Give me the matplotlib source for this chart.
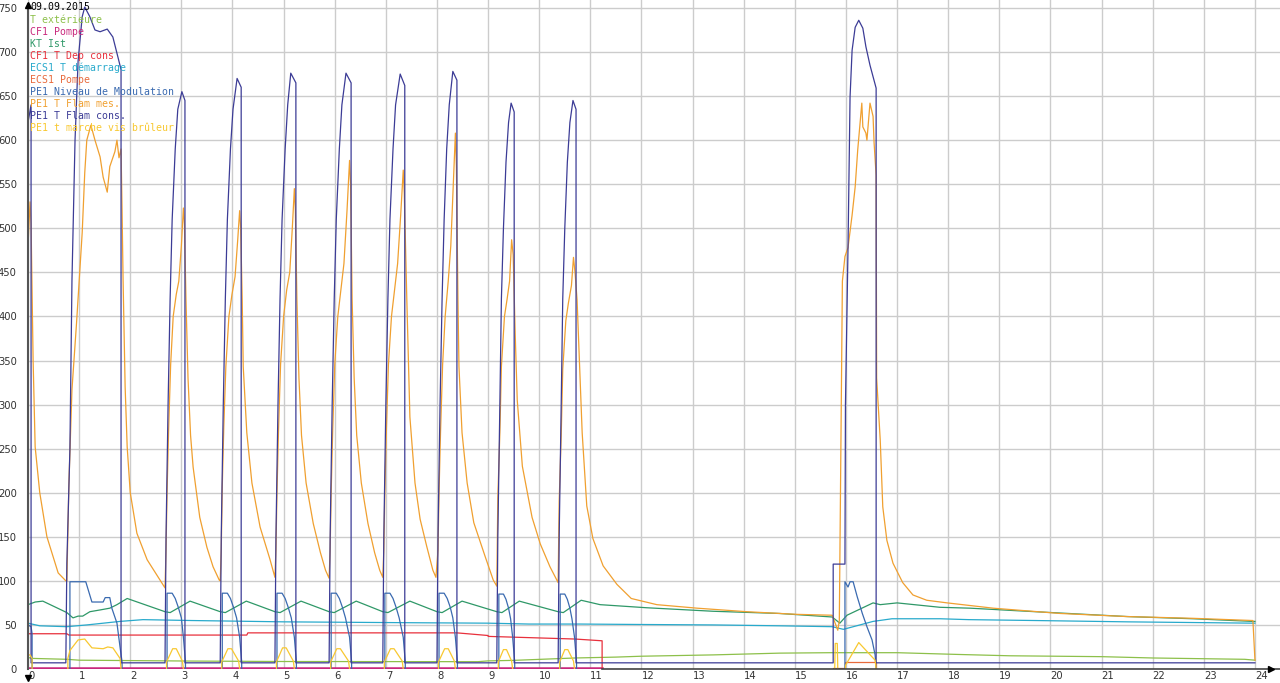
import numpy as np
import matplotlib
matplotlib.use('Agg')
import matplotlib.pyplot as plt

nan = np.nan

## Series (hours, value)
date_label = '09.09.2015'

text_t = [0.00, 0.10, 0.76, 1.00, 3.20, 5.00, 8.80, 9.00, 9.50, 10.70, 11.50, 12.00,
          13.40, 14.70, 15.70, 17.00, 18.20, 19.20, 21.00, 22.00, 23.80, 24.00]
text_v = [13, 12, 11, 10, 9, 8.5, 8.3, 9.2, 9.8, 12.5, 13.5, 14.5,
          16, 18, 18.5, 18.5, 16.5, 15, 14, 12.5, 11, 10]

cf1_pompe_t = [0.00, 11.23]
cf1_pompe_v = [1, 1]

kt_t = [0.00, 0.14, 0.29, 0.76, 0.88, 0.98, 1.07, 1.21, 1.41, 1.60, 1.74, 1.94,
        2.68, 2.78, 3.17, 3.76, 3.86, 4.27, 4.83, 4.93, 5.34, 5.89, 5.99, 6.42,
        6.94, 7.04, 7.47, 8.00, 8.10, 8.49, 9.17, 9.27, 9.61, 10.37, 10.47, 10.82,
        11.19, 12.10, 13.40, 14.70, 15.73, 15.88, 16.02, 16.53, 16.67, 17.00,
        17.84, 18.43, 19.54, 21.50, 22.79, 23.96, 24.00]
kt_v = [73, 76, 77, 64, 58, 60, 60, 65, 67, 69, 73, 80,
        65, 64, 77, 65, 64, 77, 65, 64, 77, 65, 64, 77,
        65, 64, 77, 65, 64, 77, 65, 64, 77, 65, 64, 78,
        73, 69.5, 65.5, 63, 59, 52, 61, 75, 73, 75,
        70, 69, 65.5, 59.5, 57, 54, 54]

dep_t = [0.00, 0.76, 0.80, 4.28, 4.30, 8.39, 9.00, 9.00, 10.70, 11.23, 11.23]
dep_v = [40, 40, 38.5, 38.5, 41, 41, 38, 37, 34, 32, 0]

ecs_dem_t = [0.00, 0.23, 0.76, 1.15, 1.80, 2.25, 3.20, 5.00, 7.50, 9.00, 9.80,
             10.80, 12.00, 13.40, 14.70, 15.73, 15.95, 16.53, 16.90, 17.84, 18.40,
             19.70, 21.50, 23.96, 24.00]
ecs_dem_v = [52, 49, 48, 50, 54, 56, 55, 53.5, 52.5, 52, 51,
             51, 50.5, 50, 49, 48, 45, 54, 57, 57, 56,
             55, 53.5, 52, 52]

ecs_pompe_t = [15.74, 15.98, 15.98, 16.59, 16.59]
ecs_pompe_v = [1, 1, 8, 8, 1]

mod_t = [0.00, 0.06, 0.08, 0.08, nan,
         0.82, 0.82, 1.13, 1.25, 1.47, 1.51, 1.60, 1.64, 1.74, 1.80, 1.84, 1.84, nan,
         2.72, 2.72, 2.82, 2.88, 2.94, 3.00, 3.04, 3.08, 3.08, nan,
         3.80, 3.80, 3.90, 3.96, 4.02, 4.08, 4.14, 4.18, 4.18, nan,
         4.87, 4.87, 4.97, 5.03, 5.09, 5.15, 5.21, 5.25, 5.25, nan,
         5.93, 5.93, 6.03, 6.09, 6.15, 6.21, 6.29, 6.33, 6.33, nan,
         6.98, 6.98, 7.08, 7.14, 7.20, 7.26, 7.34, 7.38, 7.38, nan,
         8.04, 8.04, 8.14, 8.20, 8.26, 8.31, 8.36, 8.40, 8.40, nan,
         9.21, 9.21, 9.30, 9.35, 9.40, 9.44, 9.48, 9.52, 9.52, nan,
         10.41, 10.41, 10.50, 10.55, 10.60, 10.64, 10.69, 10.73, 10.73, nan,
         15.98, 15.98, 16.04, 16.08, 16.14, 16.22, 16.32, 16.41, 16.51, 16.57, 16.59]
mod_v = [50, 48, 40, 0, nan,
         0, 99, 99, 76, 76, 81, 81, 69, 52, 25, 8, 0, nan,
         0, 86, 86, 80, 70, 58, 36, 8, 0, nan,
         0, 86, 86, 80, 70, 58, 36, 8, 0, nan,
         0, 86, 86, 80, 70, 58, 36, 8, 0, nan,
         0, 86, 86, 80, 70, 58, 36, 8, 0, nan,
         0, 86, 86, 80, 70, 58, 36, 8, 0, nan,
         0, 86, 86, 80, 70, 58, 36, 8, 0, nan,
         0, 85, 85, 79, 69, 57, 36, 8, 0, nan,
         0, 85, 85, 79, 69, 57, 36, 8, 0, nan,
         0, 99, 93, 99, 99, 82, 63, 48, 33, 16, 0]

mes_t = [0.00, 0.04, 0.06, 0.10, 0.14, 0.23, 0.37, 0.59, 0.74,
         0.76, 0.80, 0.86, 0.95, 1.06, 1.11, 1.15, 1.23, 1.31, 1.41, 1.47, 1.55, 1.60,
         1.70, 1.74, 1.78, 1.82, 1.84, 1.86, 1.90, 1.94, 2.00, 2.13, 2.33, 2.58, 2.68,
         2.70, 2.72, 2.75, 2.79, 2.84, 2.90, 2.95, 3.00, 3.04, 3.06, 3.09, 3.13, 3.18,
         3.23, 3.36, 3.50, 3.62, 3.74,
         3.76, 3.78, 3.80, 3.83, 3.87, 3.93, 3.99, 4.05, 4.10, 4.14, 4.16, 4.19, 4.21,
         4.28, 4.38, 4.54, 4.73, 4.83,
         4.85, 4.87, 4.90, 4.94, 5.00, 5.06, 5.12, 5.17, 5.21, 5.23, 5.26, 5.30, 5.35,
         5.44, 5.58, 5.72, 5.82, 5.89,
         5.91, 5.93, 5.96, 6.00, 6.06, 6.12, 6.18, 6.24, 6.29, 6.31, 6.34, 6.38, 6.43,
         6.52, 6.65, 6.78, 6.88, 6.94,
         6.96, 6.98, 7.01, 7.05, 7.11, 7.17, 7.23, 7.29, 7.34, 7.36, 7.41, 7.47, 7.57,
         7.67, 7.80, 7.92, 7.98,
         8.02, 8.04, 8.07, 8.11, 8.16, 8.22, 8.27, 8.32, 8.36, 8.38, 8.41, 8.43, 8.49,
         8.59, 8.72, 8.94, 9.10, 9.17,
         9.19, 9.23, 9.26, 9.32, 9.37, 9.42, 9.46, 9.49, 9.53, 9.57, 9.67, 9.86, 10.02,
         10.21, 10.37,
         10.39, 10.43, 10.46, 10.52, 10.57, 10.63, 10.67, 10.70, 10.74, 10.84, 10.93,
         11.05, 11.25, 11.52, 11.80, 12.30, 13.09, 14.06, 15.04, 15.73,
         15.80, 15.84, 15.87, 15.90, 15.93, 15.98, 16.04, 16.12, 16.18, 16.23, 16.31,
         16.33, 16.39, 16.41, 16.47, 16.53, 16.55, 16.59, 16.60, 16.67, 16.72, 16.80,
         16.92, 17.11, 17.31, 17.58, 17.98, 18.88, 20.19, 21.50, 22.79, 23.96, 24.00]
mes_v = [480, 530, 505, 350, 252, 200, 150, 109, 100,
         100, 210, 317, 393, 495, 563, 600, 617, 600, 581, 558, 541, 570,
         587, 600, 580, 590, 520, 441, 320, 252, 200, 154, 124, 101, 92,
         135, 200, 270, 345, 400, 425, 440, 480, 523, 505, 419, 330, 265,
         229, 172, 138, 116, 101,
         100, 135, 207, 275, 343, 400, 425, 445, 485, 520, 500, 419, 343,
         268, 211, 161, 125, 104,
         135, 200, 270, 345, 400, 430, 450, 500, 545, 520, 419, 330, 265,
         211, 165, 132, 112, 103,
         135, 200, 270, 345, 400, 430, 460, 520, 577, 550, 419, 330, 265,
         211, 165, 132, 112, 104,
         135, 200, 270, 345, 400, 430, 460, 515, 566, 540, 419, 286, 211,
         170, 139, 112, 104,
         135, 200, 270, 345, 400, 440, 480, 550, 608, 570, 419, 343, 268,
         211, 166, 128, 101, 94,
         194, 268, 343, 400, 419, 440, 487, 470, 380, 305, 230, 172, 142,
         116, 98,
         190, 265, 340, 395, 415, 435, 467, 450, 419, 268, 185,
         148, 117, 96, 80, 73, 69, 65, 62, 61,
         50, 44, 55, 250, 440, 468, 478, 515, 547, 589, 642,
         615, 608, 600, 642, 627, 597, 560, 330, 260, 184, 146,
         120, 98, 84, 78, 75, 69, 63, 59.5, 57.5, 55, 10]

cons_t = [0.00, 0.06, 0.06, 0.74,
          0.74, 0.76, 0.82, 0.86, 0.92, 0.98, 1.06, 1.11, 1.21, 1.31, 1.41, 1.55, 1.66,
          1.76, 1.82, 1.82,
          2.68, 2.70, 2.74, 2.78, 2.82, 2.88, 2.93, 3.01, 3.07, 3.07,
          3.76, 3.78, 3.82, 3.86, 3.90, 3.96, 4.01, 4.09, 4.17, 4.17,
          4.83, 4.85, 4.89, 4.93, 4.97, 5.03, 5.08, 5.14, 5.24, 5.24,
          5.89, 5.91, 5.95, 5.99, 6.03, 6.09, 6.14, 6.22, 6.32, 6.32,
          6.94, 6.96, 7.00, 7.04, 7.08, 7.14, 7.19, 7.28, 7.37, 7.37,
          8.00, 8.02, 8.06, 8.10, 8.14, 8.19, 8.24, 8.31, 8.39, 8.39,
          9.17, 9.19, 9.23, 9.26, 9.30, 9.35, 9.40, 9.45, 9.51, 9.51,
          10.37, 10.39, 10.43, 10.46, 10.50, 10.55, 10.60, 10.66, 10.72, 10.72,
          15.75, 15.75, 15.98, 15.99, 16.04, 16.08, 16.12, 16.18, 16.25, 16.33, 16.39,
          16.47, 16.59, 16.59, 24.00]
cons_v = [620, 640, 7, 7,
          7, 120, 250, 441, 600, 690, 740, 751, 740, 725, 723, 726, 717,
          694, 680, 7,
          7, 150, 300, 420, 510, 590, 635, 655, 645, 7,
          7, 150, 300, 420, 510, 590, 635, 670, 660, 7,
          7, 150, 300, 420, 510, 590, 640, 676, 665, 7,
          7, 150, 300, 420, 510, 590, 640, 676, 665, 7,
          7, 150, 300, 420, 510, 590, 640, 675, 662, 7,
          7, 150, 300, 420, 510, 590, 640, 678, 668, 7,
          7, 150, 300, 420, 500, 575, 620, 642, 632, 7,
          7, 150, 300, 420, 500, 575, 620, 645, 635, 7,
          7, 119, 119, 300, 478, 649, 702, 728, 736, 727, 706,
          685, 659, 7, 7]

vis_t = [0.00, 0.04, 0.08, 0.08, nan,
         0.78, 0.78, 0.82, 0.98, 1.11, 1.25, 1.47, 1.56, 1.66, 1.80, 1.82, nan,
         2.71, 2.71, 2.83, 2.90, 3.02, 3.04, nan,
         3.79, 3.79, 3.91, 3.98, 4.12, 4.14, nan,
         4.86, 4.86, 4.98, 5.05, 5.19, 5.21, nan,
         5.92, 5.92, 6.04, 6.11, 6.27, 6.29, nan,
         6.97, 6.97, 7.09, 7.16, 7.32, 7.34, nan,
         8.03, 8.03, 8.15, 8.22, 8.34, 8.36, nan,
         9.20, 9.20, 9.30, 9.36, 9.46, 9.48, nan,
         10.40, 10.40, 10.50, 10.56, 10.67, 10.69, nan,
         15.78, 15.79, 15.83, 15.84, nan,
         15.99, 15.99, 16.25, 16.57, 16.59]
vis_v = [16, 16, 12, 0, nan,
         0, 12, 21, 33, 34, 24, 23, 25, 24, 12, 0, nan,
         0, 8, 23, 23, 9, 0, nan,
         0, 8, 23, 23, 9, 0, nan,
         0, 8, 24, 24, 9, 0, nan,
         0, 8, 23, 23, 9, 0, nan,
         0, 8, 23, 23, 9, 0, nan,
         0, 8, 23, 23, 9, 0, nan,
         0, 8, 22, 22, 9, 0, nan,
         0, 8, 22, 22, 9, 0, nan,
         0, 29, 29, 0, nan,
         0, 4, 30, 10, 0]

## Legend names and colours
names = ['T extérieure', 'CF1 Pompe', 'KT Ist', 'CF1 T Dep cons', 'ECS1 T démarrage',
         'ECS1 Pompe', 'PE1 Niveau de Modulation', 'PE1 T Flam mes.', 'PE1 T Flam cons.',
         'PE1 t marche vis brûleur']
colors = ['#8dc04a', '#c8287c', '#2f9868', '#e8303c', '#28aacc',
          '#e86a3c', '#3a6ab0', '#f0a030', '#3c3c96', '#f8c830']
series = [(text_t, text_v), (cf1_pompe_t, cf1_pompe_v), (kt_t, kt_v), (dep_t, dep_v),
          (ecs_dem_t, ecs_dem_v), (ecs_pompe_t, ecs_pompe_v), (mod_t, mod_v),
          (mes_t, mes_v), (cons_t, cons_v), (vis_t, vis_v)]

## Figure
fig = plt.figure(figsize=(12.8, 6.83), dpi=100, facecolor='white')
ax = fig.add_axes([28/1280, 14/683, 1252/1280, 669/683])
ax.set_xlim(0, 24.49)
ax.set_ylim(0, 759)
for sp in ax.spines.values():
    sp.set_visible(False)

ax.set_xticks(range(0, 25))
ax.set_yticks(range(0, 751, 50))
ax.grid(color='#cccccc', lw=1.0)
ax.set_axisbelow(True)
ax.tick_params(length=0, labelsize=7.2, colors='#333333')
ax.tick_params(axis='y', pad=8)
ax.tick_params(axis='x', pad=1.5)
for lbl in ax.get_xticklabels():
    lbl.set_ha('left')

for (t, v), c in zip(series, colors):
    lw = 1.8 if c == '#c8287c' else 0.9
    ax.plot(np.array(t, dtype=float), np.array(v, dtype=float), color=c, lw=lw)

## Axis lines with arrows
ax.plot([0, 0], [0, 755], color='#555555', lw=1.5, clip_on=False)
ax.plot([11.23, 24.49], [0, 0], color='#444444', lw=1.2, clip_on=False)
ax.plot([0], [0.993], marker='^', ms=5, color='black', transform=ax.get_xaxis_transform(), clip_on=False)
ax.plot([0.993], [0], marker='>', ms=5, color='black', transform=ax.get_yaxis_transform(), clip_on=False)
ax.plot([0], [-10], marker='v', ms=5, color='black', clip_on=False)

## Legend texts
fig.text(30/1280, 1 - 7/683, date_label, color='black', fontsize=7.1,
         family='DejaVu Sans Mono', va='center')
for i, (n, c) in enumerate(zip(names, colors)):
    fig.text(30/1280, 1 - (20 + 12*i)/683, n, color=c, fontsize=7.1,
             family='DejaVu Sans Mono', va='center')

fig.savefig('out.png', dpi=100, facecolor='white')
